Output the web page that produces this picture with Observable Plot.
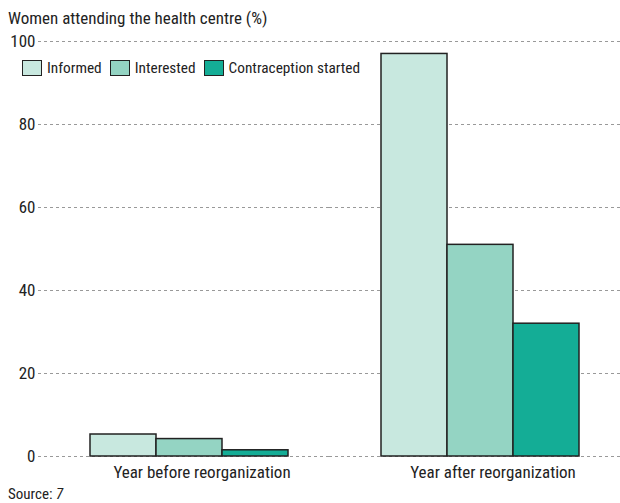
<!DOCTYPE html>
<html>
<head>
<meta charset="utf-8">
<script src="https://cdn.jsdelivr.net/npm/d3@7"></script>
<script src="https://cdn.jsdelivr.net/npm/@observablehq/plot@0.6"></script>
<style>
  body { margin: 0; background: #fff; font-family: "Roboto Condensed", "Liberation Sans Narrow", "DejaVu Sans Condensed", Roboto, sans-serif; color: #222; }
  #wrap { position: relative; width: 620px; }
  #title { height: 28px; font-size: 17px; line-height: 20px; padding: 8px 0 0 8px; box-sizing: border-box; }
  #legend { position: absolute; left: 22px; top: 59px; display: flex; align-items: center; font-size: 15.3px; }
  #legend .item { display: flex; align-items: center; margin-right: 8px; }
  #legend .sw { width: 18px; height: 14px; border: 1px solid #222; margin-right: 5px; }
  #source { font-size: 15px; padding-left: 8px; line-height: 16px; }
</style>
</head>
<body>
<div id="wrap">
  <div id="title">Women attending the health centre (%)</div>
  <div id="chart"></div>
  <div id="legend"></div>
  <div id="source">Source: <i>7</i></div>
</div>
<script>
const groups = ["Year before reorganization", "Year after reorganization"];
const series = ["Informed", "Interested", "Contraception started"];
const beforeValues = [5.3, 4.2, 1.5];
const afterValues = [97, 51, 32];
const colors = ["#c8e8df", "#94d4c3", "#14ad96"];
const yTicks = [0, 20, 40, 60, 80, 100];

const valuesByGroup = [beforeValues, afterValues];
const data = groups.flatMap((g, i) => series.map((s, j) => ({group: g, series: s, value: valuesByGroup[i][j]})));

const chart = Plot.plot({
  width: 620,
  height: 458,
  marginLeft: 38,
  marginRight: 0,
  marginTop: 13,
  marginBottom: 30,
  style: {fontFamily: '"Roboto Condensed", "Liberation Sans Narrow", "DejaVu Sans Condensed", Roboto, sans-serif', fontSize: "17px", color: "#222", background: "transparent"},
  fx: {domain: groups, padding: 0, label: null},
  x: {domain: series, paddingInner: 0, paddingOuter: 0.7, align: 0.56, axis: null},
  y: {domain: [0, 100], label: null},
  color: {domain: series, range: colors},
  marks: [
    Plot.ruleY(yTicks, {stroke: "#999", strokeDasharray: "3,3", strokeWidth: 1}),
    Plot.barY(data, {fx: "group", x: "series", y: "value", fill: "series", stroke: "#222", strokeWidth: 1.5}),
    Plot.axisY({ticks: yTicks, tickSize: 0, tickPadding: 3, fontSize: 17, label: null}),
    Plot.axisFx({anchor: "bottom", tickSize: 0, tickPadding: 9, dx: 18, fontSize: 17, label: null})
  ]
});
document.getElementById("chart").appendChild(chart);

const legend = document.getElementById("legend");
series.forEach((s, i) => {
  const item = document.createElement("div");
  item.className = "item";
  const sw = document.createElement("div");
  sw.className = "sw";
  sw.style.background = colors[i];
  const t = document.createElement("span");
  t.textContent = s;
  item.appendChild(sw);
  item.appendChild(t);
  legend.appendChild(item);
});
</script>
</body>
</html>
